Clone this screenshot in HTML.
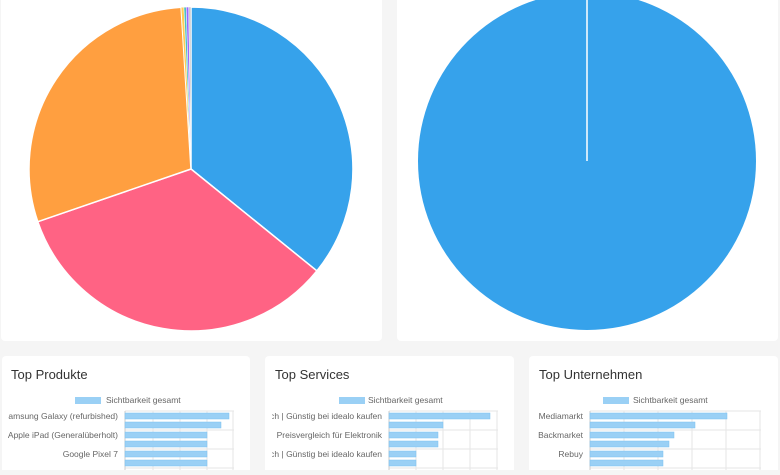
<!DOCTYPE html>
<html><head><meta charset="utf-8"><style>
body{margin:0;background:#f5f5f5;width:780px;height:470px;overflow:hidden;font-family:"Liberation Sans",sans-serif}
</style></head><body>
<svg width="780" height="470" xmlns="http://www.w3.org/2000/svg" font-family="Liberation Sans, sans-serif">
<defs><clipPath id="c1"><rect x="8" y="356" width="242" height="120"/></clipPath><clipPath id="c2"><rect x="272" y="356" width="242" height="120"/></clipPath></defs>
<rect width="780" height="470" fill="#f5f5f5"/>
<rect x="1" y="-10" width="381" height="351" rx="4" fill="#fff"/>
<rect x="397" y="-10" width="381" height="351" rx="4" fill="#fff"/>
<g stroke="#fff" stroke-width="1.5">
<path d="M191,169 L191,7 A162,162 0 0 1 316.9,270.9 Z" fill="#36a2eb"/>
<path d="M191,169 L316.9,270.9 A162,162 0 0 1 37.8,221.7 Z" fill="#ff6384"/>
<path d="M191,169 L37.8,221.7 A162,162 0 0 1 181.1,7.3 Z" fill="#ff9f40"/>
</g>
<g stroke="#fff" stroke-width="0.5">
<path d="M191,169 L181.1,7.3 A162,162 0 0 1 183.9,7.2 Z" fill="#ffcd56"/>
<path d="M191,169 L183.9,7.2 A162,162 0 0 1 186.2,7.1 Z" fill="#4bc0c0"/>
<path d="M191,169 L186.2,7.1 A162,162 0 0 1 188.7,7 Z" fill="#9966ff"/>
<path d="M191,169 L188.7,7 A162,162 0 0 1 191,7 Z" fill="#c9cbcf"/>
</g>
<circle cx="587" cy="161" r="169" fill="#36a2eb"/>
<line x1="587" y1="-10" x2="587" y2="161" stroke="#fff" stroke-width="1.5"/>

<rect x="2" y="356" width="248" height="120" rx="4" fill="#fff"/>
<rect x="265" y="356" width="249" height="120" rx="4" fill="#fff"/>
<rect x="529" y="356" width="249" height="120" rx="4" fill="#fff"/>
<g font-size="13" fill="#333">
<text x="11" y="379">Top Produkte</text>
<text x="275" y="379">Top Services</text>
<text x="539" y="379">Top Unternehmen</text>
</g>
<g font-size="8.5" fill="#666">
<rect x="75" y="397" width="26" height="7" fill="#9ad0f5"/><text x="106" y="403">Sichtbarkeit gesamt</text>
<rect x="339" y="397" width="26" height="7" fill="#9ad0f5"/><text x="368" y="403">Sichtbarkeit gesamt</text>
<rect x="603" y="397" width="26" height="7" fill="#9ad0f5"/><text x="633" y="403">Sichtbarkeit gesamt</text>
<g text-anchor="end">
<g clip-path="url(#c1)">
<text x="118" y="419">Samsung Galaxy (refurbished)</text>
<text x="118" y="438">Apple iPad (Generalüberholt)</text>
<text x="118" y="457">Google Pixel 7</text>
</g>
<g clip-path="url(#c2)">
<text x="382" y="419">ich | Günstig bei idealo kaufen</text>
<text x="382" y="438">Preisvergleich für Elektronik</text>
<text x="382" y="457">ich | Günstig bei idealo kaufen</text>
</g>
<text x="583" y="419">Mediamarkt</text>
<text x="583" y="438">Backmarket</text>
<text x="583" y="457">Rebuy</text>
</g></g>
<g stroke="#e6e6e6" stroke-width="1">
<path d="M153,411V470M180,411V470M207,411V470M233,411V470M125,411H234M125,430H234M125,449H234M125,468H234"/>
<path d="M416,411V470M443,411V470M470,411V470M497,411V470M389,411H498M389,430H498M389,449H498M389,468H498"/>
<path d="M624,411V470M658,411V470M692,411V470M726,411V470M760,411V470M590,411H761M590,430H761M590,449H761M590,468H761"/>
<path d="M125,411V470M389,411V470M590,411V470" stroke="#ccc"/>
</g>
<g fill="#9ad0f5" stroke="#7cc1f0" stroke-width="0.5">
<rect x="125" y="413" width="104" height="6"/><rect x="125" y="422" width="96" height="6"/><rect x="125" y="432" width="82" height="6"/><rect x="125" y="441" width="82" height="6"/><rect x="125" y="451" width="82" height="6"/><rect x="125" y="460" width="82" height="6"/>
<rect x="389" y="413" width="101" height="6"/><rect x="389" y="422" width="54" height="6"/><rect x="389" y="432" width="49" height="6"/><rect x="389" y="441" width="49" height="6"/><rect x="389" y="451" width="27" height="6"/><rect x="389" y="460" width="27" height="6"/>
<rect x="590" y="413" width="137" height="6"/><rect x="590" y="422" width="105" height="6"/><rect x="590" y="432" width="84" height="6"/><rect x="590" y="441" width="79" height="6"/><rect x="590" y="451" width="73" height="6"/><rect x="590" y="460" width="73" height="6"/>
</g>
</svg>
</body></html>
